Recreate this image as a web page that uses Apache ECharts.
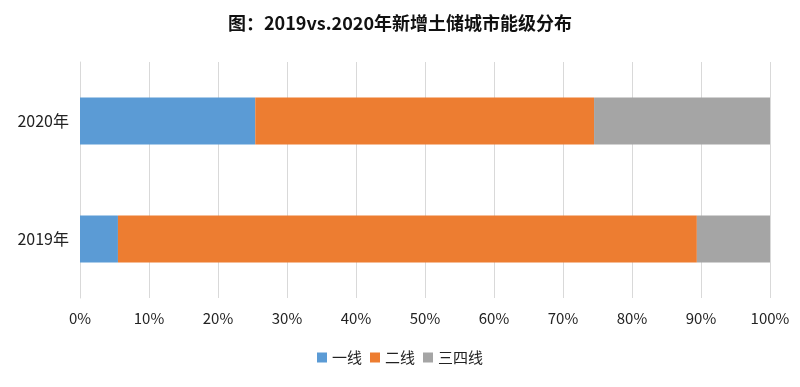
<!DOCTYPE html>
<html><head><meta charset="utf-8">
<script src="https://cdn.jsdelivr.net/npm/echarts@6/dist/echarts.min.js"></script>
<style>html,body{margin:0;padding:0;background:#fff}#c{width:800px;height:387px}</style>
</head><body><div id="c"></div>
<script>
const categories = ['2019年', '2020年'];
const tier1 = [5.5, 25.4];
const tier2 = [83.9, 49.1];
const tier34 = [10.6, 25.5];
const seriesNames = ['一线', '二线', '三四线'];
const colors = ['#5B9BD5', '#ED7D31', '#A5A5A5'];
const font = '"Noto Sans CJK SC", "Noto Sans", sans-serif';
const chart = echarts.init(document.getElementById('c'));
const mk = (name, data, i) => ({
  name, type: 'bar', stack: 'a', data, barWidth: '40%',
  itemStyle: {color: colors[i]}
});
chart.setOption({
  animation: false,
  title: {text: '图：2019vs.2020年新增土储城市能级分布', left: 'center', top: 9,
    textStyle: {fontSize: 18, fontWeight: 'bold', color: '#111', fontFamily: font}},
  legend: {bottom: 17, left: 'center', itemWidth: 10, itemHeight: 10, itemGap: 8,
    icon: 'rect', textStyle: {fontSize: 15, color: '#222', fontFamily: font},
    data: seriesNames},
  grid: {left: 80, right: 30, top: 62, bottom: 89, containLabel: false},
  xAxis: {type: 'value', min: 0, max: 100, interval: 10,
    axisLabel: {formatter: '{value}%', fontSize: 15, color: '#222', margin: 13, fontFamily: font},
    splitLine: {lineStyle: {color: '#d9d9d9'}},
    axisLine: {show: false}, axisTick: {show: false}},
  yAxis: {type: 'category', data: categories,
    axisLabel: {fontSize: 16, color: '#222', margin: 11, fontFamily: font},
    axisLine: {show: true, lineStyle: {color: '#d9d9d9'}}, axisTick: {show: false}},
  series: [mk(seriesNames[0], tier1, 0), mk(seriesNames[1], tier2, 1), mk(seriesNames[2], tier34, 2)]
});
</script></body></html>
